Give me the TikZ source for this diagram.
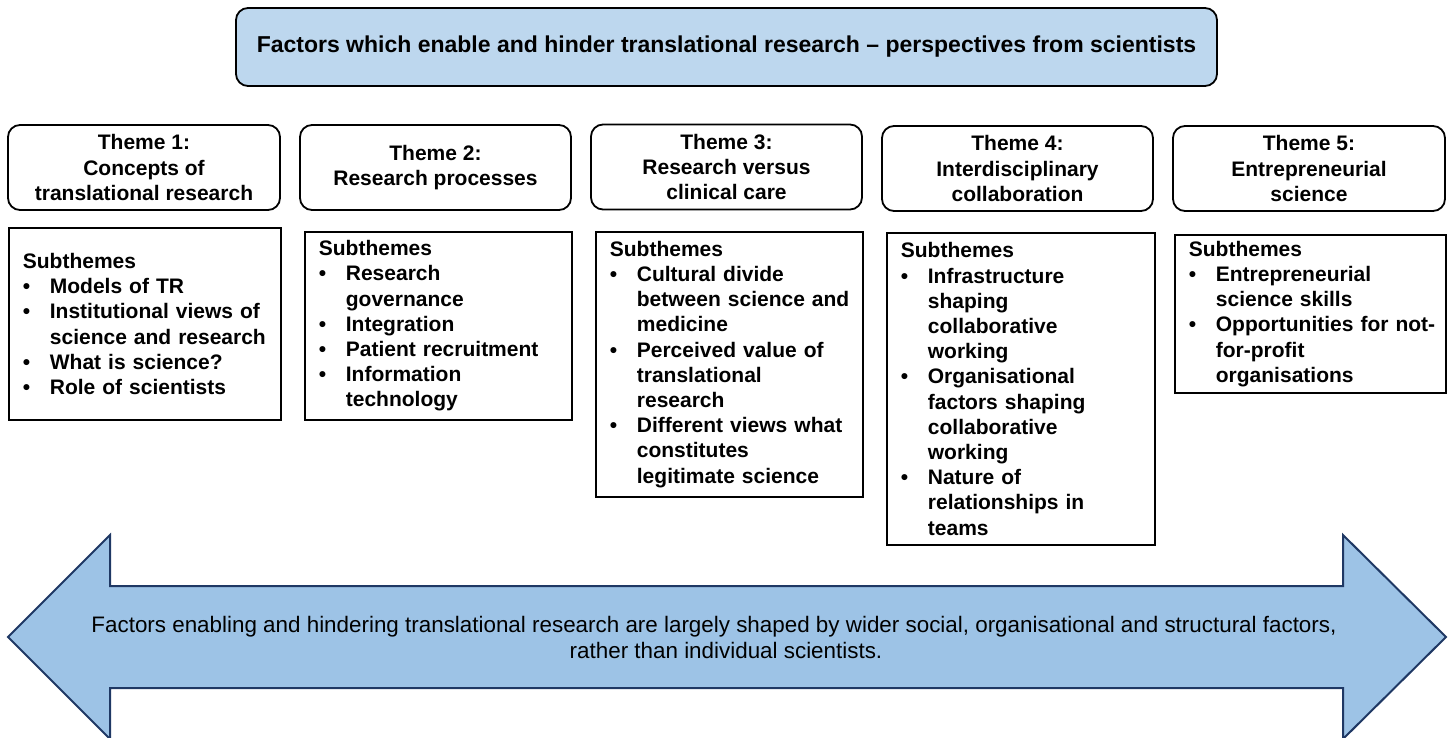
\documentclass[tikz,border=0pt]{standalone}
\usepackage{fontspec}
\setmainfont{Liberation Sans}
\newcommand\bitem[1]{\par\hangindent=13.5pt\hangafter=1\noindent\makebox[13.5pt][l]{\textbullet}#1}
\definecolor{titlefill}{HTML}{BDD7EE}
\definecolor{arrowfill}{HTML}{9DC3E6}
\definecolor{arrowline}{HTML}{1F3864}
\begin{document}
\begin{tikzpicture}[x=0.5pt,y=-0.5pt,
  every node/.style={font=\fontsize{10.5}{12.6}\selectfont},
  titlebox/.style={draw=black, line width=0.9pt, fill=titlefill, rounded corners=6pt, minimum width=490.5pt, minimum height=39pt, font=\fontsize{11.5}{13.8}\selectfont\bfseries},
  themebox/.style={draw=black, line width=0.9pt, fill=white, rounded corners=6pt, minimum height=42.5pt, align=center, inner sep=0pt, font=\fontsize{10.5}{12.6}\selectfont\bfseries},
  subbox/.style={draw=black, line width=0.9pt, fill=white, anchor=north west, inner xsep=7pt, inner ysep=0pt, align=left, font=\fontsize{10.5}{12.6}\selectfont\bfseries},
  bigarrow/.style={draw=arrowline, line width=1pt, fill=arrowfill, line join=miter}
]
\useasboundingbox (0,0) rectangle (1448,738);

\node[titlebox] (title) at (726.5,47) {Factors which enable and hinder translational research -- perspectives from scientists};

\node[themebox, minimum width=136pt] (t1) at (144,167.5) {Theme 1:\\Concepts of\\translational research};
\node[themebox, minimum width=135.5pt] (t2) at (435.5,167.5) {Theme 2:\\Research processes};
\node[themebox, minimum width=135.5pt] (t3) at (726.5,167) {Theme 3:\\Research versus\\clinical care};
\node[themebox, minimum width=135.5pt] (t4) at (1017.5,168.5) {Theme 4:\\Interdisciplinary\\collaboration};
\node[themebox, minimum width=136pt] (t5) at (1309,168.5) {Theme 5:\\Entrepreneurial\\science};

\node[subbox, text width=122pt, minimum height=96pt] (s1) at (8,227) {%
Subthemes%
\bitem{Models of TR}%
\bitem{\mbox{Institutional views of}\newline\mbox{science and research}}%
\bitem{What is science?}%
\bitem{Role of scientists}\par};

\node[subbox, text width=119.5pt, minimum height=94pt] (s2) at (304,231) {%
Subthemes%
\bitem{Research\newline governance}%
\bitem{Integration}%
\bitem{\mbox{Patient recruitment}}%
\bitem{Information\newline technology}\par};

\node[subbox, text width=119.5pt, minimum height=132.5pt] (s3) at (595,231) {%
Subthemes%
\bitem{Cultural divide\newline\mbox{between science and}\newline medicine}%
\bitem{\mbox{Perceived value of}\newline translational\newline research}%
\bitem{\mbox{Different views what}\newline constitutes\newline\mbox{legitimate science}}\par};

\node[subbox, text width=120pt, minimum height=156pt] (s4) at (886,232) {%
Subthemes%
\bitem{Infrastructure\newline shaping\newline collaborative\newline working}%
\bitem{Organisational\newline\mbox{factors shaping}\newline collaborative\newline working}%
\bitem{Nature of\newline\mbox{relationships in}\newline teams}\par};

\node[subbox, text width=121.5pt, minimum height=79pt] (s5) at (1174,234) {%
Subthemes%
\bitem{Entrepreneurial\newline\mbox{science skills}}%
\bitem{\mbox{Opportunities for not-}\newline for-profit\newline organisations}\par};

\draw[bigarrow] (8,637) -- (110,535) -- (110,586) -- (1343,586) -- (1343,535) -- (1446,637) -- (1343,739) -- (1343,688) -- (110,688) -- (110,739) -- cycle;
\node[align=center, font=\fontsize{11.2}{12.6}\selectfont] (msg) at (714,637.5) {Factors enabling and hindering translational research are largely shaped by wider social, organisational and structural factors,\\\hspace*{12pt}rather than individual scientists.};
\end{tikzpicture}
\end{document}
